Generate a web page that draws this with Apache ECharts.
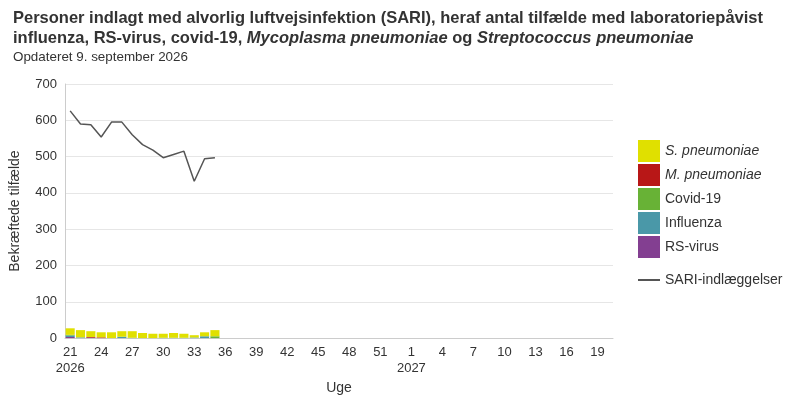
<!DOCTYPE html>
<html>
<head>
<meta charset="utf-8">
<title>SARI</title>
<script src="https://cdn.jsdelivr.net/npm/echarts@6/dist/echarts.min.js"></script>
<style>
    html, body { margin: 0; padding: 0; background: #fff; }
    #chart { width: 800px; height: 400px; }
</style>
</head>
<body>
<div id="chart"></div>
<script>
// uger: 2026 uge 21-53, 2027 uge 1-20
var weeks2026 = [21, 22, 23, 24, 25, 26, 27, 28, 29, 30, 31, 32, 33, 34, 35, 36, 37, 38, 39, 40, 41, 42, 43, 44, 45, 46, 47, 48, 49, 50, 51, 52, 53];
var weeks2027 = [1, 2, 3, 4, 5, 6, 7, 8, 9, 10, 11, 12, 13, 14, 15, 16, 17, 18, 19, 20];
var yTicks = [0, 100, 200, 300, 400, 500, 600, 700];

// bekræftede tilfælde pr. uge (uge 21-35, 2026)
var rsVirus = [3, 0, 0, 0, 0, 0, 0, 0, 0, 0, 0, 0, 0, 0, 0];
var influenza = [4, 2, 1, 0, 0, 3, 0, 0, 0, 0, 0, 0, 1, 5, 0];
var covid19 = [2, 0, 0, 0, 0, 1, 1, 0, 0, 1, 1, 1, 1, 0, 5];
var mPneumoniae = [0, 0, 2, 2, 0, 0, 0, 0, 0, 0, 0, 0, 0, 0, 0];
var sPneumoniae = [18, 20, 16, 14, 16, 15, 18, 14, 12, 11, 13, 11, 6, 11, 17];
var sariIndlagte = [626, 590, 588, 554, 595, 595, 560, 533, 518, 497, 506, 515, 432, 494, 497];

var categories = [];
var yearOf = [];
weeks2026.forEach(function (w) { categories.push(String(w)); yearOf.push(2026); });
weeks2027.forEach(function (w) { categories.push(String(w)); yearOf.push(2027); });

var font = 'Liberation Sans, Arial, sans-serif';
var txt = '#333333';

function barSeries(name, data, color) {
    return {
        name: name,
        type: 'bar',
        stack: 'tilfaelde',
        barWidth: '88%',
        data: data,
        itemStyle: { color: color },
        emphasis: { disabled: true }
    };
}

var chart = echarts.init(document.getElementById('chart'), null, { renderer: 'canvas' });

var option = {
    animation: false,
    textStyle: { fontFamily: font },
    title: [{
        left: 8,
        top: 3,
        text: '{b|Personer indlagt med alvorlig luftvejsinfektion (SARI), heraf antal tilfælde med laboratoriepåvist}\n' +
            '{b|influenza, RS-virus, covid-19, }{bi|Mycoplasma pneumoniae}{b| og }{bi|Streptococcus pneumoniae}',
        textStyle: {
            rich: {
                b: { fontFamily: font, fontSize: 16.5, fontWeight: 'bold', color: txt, lineHeight: 20 },
                bi: { fontFamily: font, fontSize: 16.5, fontWeight: 'bold', fontStyle: 'italic', color: txt, lineHeight: 20 }
            }
        }
    }, {
        left: 8,
        top: 46,
        text: 'Opdateret 9. september 2026',
        textStyle: { fontFamily: font, fontSize: 13.4, fontWeight: 'normal', color: txt }
    }],
    legend: [{
        orient: 'vertical',
        left: 638,
        top: 140,
        padding: 0,
        itemWidth: 22,
        itemHeight: 22,
        itemGap: 2,
        icon: 'rect',
        data: ['S. pneumoniae', 'M. pneumoniae', 'Covid-19', 'Influenza', 'RS-virus'],
        formatter: function (name) {
            return name.indexOf('pneumoniae') >= 0 ? '{i|' + name + '}' : name;
        },
        textStyle: {
            fontFamily: font, fontSize: 14, color: txt,
            rich: { i: { fontFamily: font, fontSize: 14, fontStyle: 'italic', color: txt } }
        },
        selectedMode: false
    }, {
        orient: 'vertical',
        left: 638,
        top: 273,
        padding: 0,
        itemWidth: 22,
        itemHeight: 2,
        icon: 'rect',
        data: ['SARI-indlæggelser'],
        textStyle: { fontFamily: font, fontSize: 14, color: txt },
        selectedMode: false
    }],
    grid: { left: 65, right: 187, top: 84, bottom: 60 },
    xAxis: {
        type: 'category',
        data: categories,
        boundaryGap: true,
        name: 'Uge',
        nameLocation: 'middle',
        nameGap: 38,
        nameTextStyle: { fontFamily: font, fontSize: 14, color: txt },
        axisLine: { lineStyle: { color: '#cccccc' } },
        axisTick: { alignWithLabel: true, interval: 2, length: 5, lineStyle: { color: '#cccccc' } },
        axisLabel: {
            interval: 2,
            margin: 6,
            fontFamily: font,
            fontSize: 13,
            color: txt,
            lineHeight: 16,
            formatter: function (val, idx) {
                if (idx === 0 || (yearOf[idx] !== yearOf[idx - 1])) {
                    return val + '\n' + yearOf[idx];
                }
                return val;
            }
        },
        splitLine: { show: false }
    },
    yAxis: {
        type: 'value',
        min: yTicks[0],
        max: yTicks[yTicks.length - 1],
        interval: 100,
        name: 'Bekræftede tilfælde',
        nameLocation: 'middle',
        nameGap: 43,
        nameTextStyle: { fontFamily: font, fontSize: 14, color: txt },
        axisLine: { show: true, lineStyle: { color: '#cccccc' } },
        axisTick: { show: false },
        axisLabel: { margin: 8, fontFamily: font, fontSize: 13, color: txt },
        splitLine: { lineStyle: { color: '#e6e6e6' } }
    },
    series: [
        barSeries('RS-virus', rsVirus, '#833f91'),
        barSeries('Influenza', influenza, '#4a98a8'),
        barSeries('Covid-19', covid19, '#68b236'),
        barSeries('M. pneumoniae', mPneumoniae, '#b81717'),
        barSeries('S. pneumoniae', sPneumoniae, '#e0e000'),
        {
            name: 'SARI-indlæggelser',
            type: 'line',
            data: sariIndlagte,
            symbol: 'none',
            lineStyle: { color: '#555555', width: 1.5 },
            itemStyle: { color: '#555555' },
            emphasis: { disabled: true },
            z: 3
        }
    ]
};

chart.setOption(option);
</script>
</body>
</html>
